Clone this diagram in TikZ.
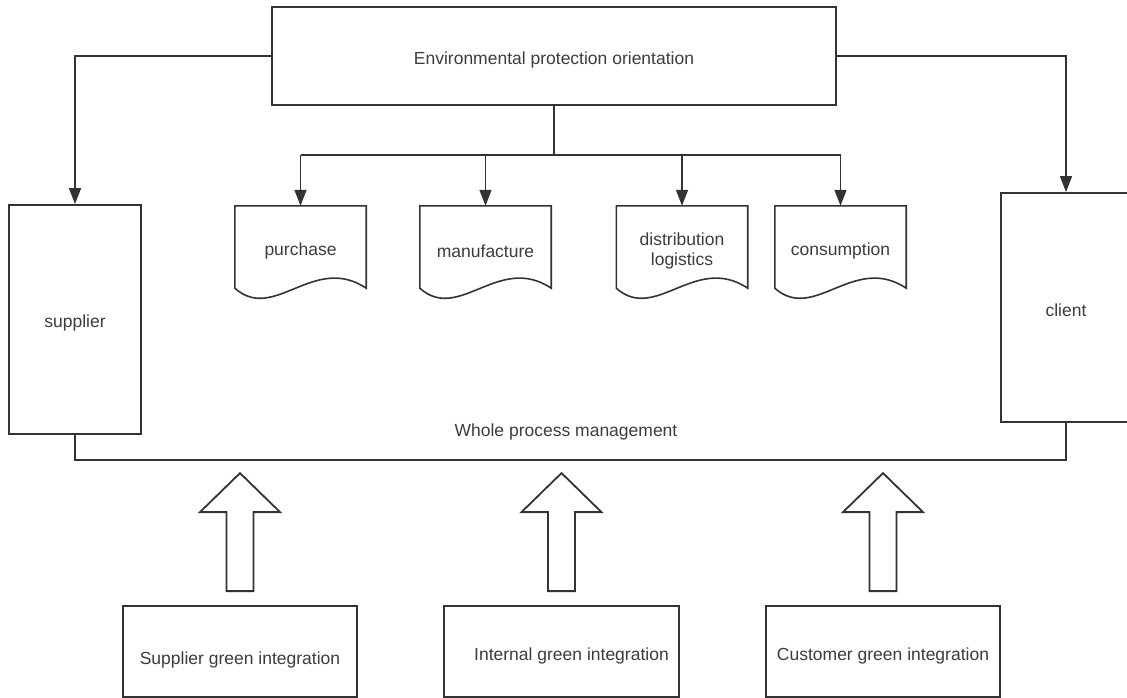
\documentclass[tikz,border=0pt]{standalone}
\usepackage{fontspec}
\setmainfont{Liberation Sans}
\usetikzlibrary{arrows.meta,calc}
\definecolor{ln}{HTML}{333333}
\definecolor{tx}{HTML}{3C3C3C}
\newcommand\docshape[1]{\draw[conn] (#1.north west) -- (#1.north east) -- ($(#1.south east)+(0,-8)$) .. controls ($(#1.south east)+(-52.4,-43)$) and ($(#1.south west)+(39.3,27)$) .. ($(#1.south west)+(0,-8)$) -- cycle;}
\newcommand\blockarrow[1]{\draw[blockarr] ($(#1.north)+(-13.5,-14)$) -- ++(0,-79) -- ++(-26.5,0) -- ($(#1.north)+(0,-132)$) -- ($(#1.north)+(40,-93)$) -- ++(-26.5,0) -- ++(0,79) -- cycle;}
\begin{document}
\begin{tikzpicture}[x=1pt,y=-1pt,
  every node/.style={font=\fontsize{17.5}{20}\selectfont, text=tx},
  box/.style={draw=ln, line width=1.8pt, rectangle, inner sep=0pt},
  docnode/.style={inner sep=0pt, minimum width=131pt, minimum height=90pt, align=center},
  conn/.style={draw=ln, line width=1.6pt},
  arr/.style={conn, -{Triangle[length=16pt,width=12pt]}},
  blockarr/.style={draw=ln, line width=1.8pt, fill=white, line join=miter}]
\useasboundingbox (0,0) rectangle (1127,698);
% top box
\node[box, minimum width=564pt, minimum height=98pt, label={[name=topt, yshift=-4pt]center:Environmental protection orientation}] (top) at (554,56) {};
% side boxes
\node[box, minimum width=132pt, minimum height=229pt, label={[name=supt, yshift=-3pt]center:supplier}] (sup) at (75,319.5) {};
\node[box, minimum width=130pt, minimum height=229pt, label={[name=clit, yshift=-3pt]center:client}] (cli) at (1066,307.5) {};
% documents
\node[docnode] (pur) at (300.5,251) {purchase};
\node[docnode] (man) at (485.5,251) {manufacture};
\node[docnode] (dis) at (682,251) {distribution\\logistics};
\node[docnode] (con) at (840.5,251) {consumption};
\docshape{pur}
\docshape{man}
\docshape{dis}
\docshape{con}
% bus
\coordinate (bus) at (554,155);
\draw[conn] (top.south) -- (bus);
\draw[conn] (pur.north |- bus) -- (con.north |- bus);
\foreach \n in {pur,man,dis,con} \draw[arr] (\n.north |- bus) -- (\n.north);
% side connectors
\draw[arr] (top.west) -| (sup.north);
\draw[arr] (top.east) -| (cli.north);
% whole process
\draw[conn] (sup.south) -- ++(0,25) -| (cli.south);
\node (wpm) at (566,432) {Whole process management};
% bottom boxes
\node[box, minimum width=234pt, minimum height=91pt, label={[name=sgt, yshift=-8pt]center:Supplier green integration}] (sg) at (240,651.5) {};
\node[box, minimum width=235pt, minimum height=91pt, label={[name=igt, xshift=10pt, yshift=-4pt]center:Internal green integration}] (ig) at (561.5,651.5) {};
\node[box, minimum width=234pt, minimum height=91pt, label={[name=cgt, yshift=-4pt]center:Customer green integration}] (cg) at (883,651.5) {};
\blockarrow{sg}
\blockarrow{ig}
\blockarrow{cg}
\end{tikzpicture}
\end{document}
